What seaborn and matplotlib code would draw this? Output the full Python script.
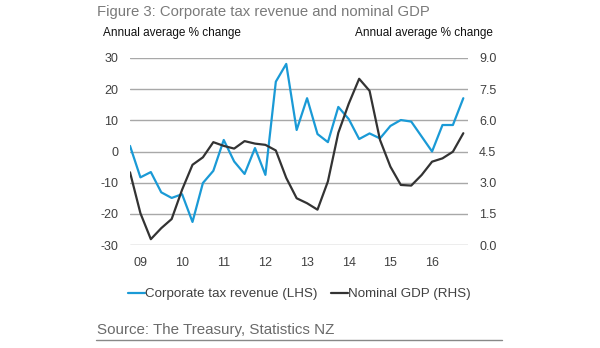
import matplotlib
matplotlib.use("Agg")
import matplotlib.pyplot as plt
from matplotlib.lines import Line2D
import seaborn as sns
import pandas as pd

quarters = ["2008Q4"] + [f"{y}Q{q}" for y in range(2009, 2017) for q in range(1, 5)]
tax_revenue = [1.8, -8.3, -6.6, -13.1, -14.9, -13.7, -22.6, -10.1, -6.2, 3.7, -3.2,
               -7.2, 1.1, -7.5, 22.4, 28.1, 6.9, 17.1, 5.6, 3.0, 14.3, 10.4, 4.0,
               5.8, 4.2, 8.2, 10.1, 9.6, 4.8, 0.0, 8.5, 8.5, 17.1]
nominal_gdp = [3.5, 1.53, 0.28, 0.81, 1.25, 2.66, 3.86, 4.22, 4.95, 4.77, 4.64,
               5.0, 4.88, 4.82, 4.55, 3.23, 2.25, 2.01, 1.7, 3.06, 5.4, 6.8, 8.0,
               7.42, 5.06, 3.77, 2.89, 2.86, 3.37, 4.01, 4.17, 4.49, 5.38]
year_labels = ["09", "10", "11", "12", "13", "14", "15", "16"]
left_ticks = [-30, -20, -10, 0, 10, 20, 30]
right_ticks = [0.0, 1.5, 3.0, 4.5, 6.0, 7.5, 9.0]

df = pd.DataFrame({"quarter": quarters, "tax": tax_revenue, "gdp": nominal_gdp})
df["idx"] = range(len(df))

sns.set_theme(style="white")
plt.rcParams["font.family"] = ["Liberation Sans", "DejaVu Sans"]

BLUE = "#1a9ad6"
BLACK = "#333333"
GRID = "#a8a8a8"
TICKC = "#404040"

fig = plt.figure(figsize=(6, 3.48), dpi=100)
ax = fig.add_axes([130 / 600, 1 - 245 / 348, (468 - 130) / 600, (245 - 58) / 348])
ax2 = ax.twinx()

sns.lineplot(data=df, x="idx", y="tax", ax=ax, color=BLUE, linewidth=1.6)
sns.lineplot(data=df, x="idx", y="gdp", ax=ax2, color=BLACK, linewidth=1.6)

ax.set_xlim(0, 32.45)
ax.set_ylim(-30, 30)
ax2.set_ylim(0, 9)
ax.set_yticks(left_ticks)
ax.set_yticklabels([str(t) for t in left_ticks])
ax2.set_yticks(right_ticks)
ax2.set_yticklabels([f"{t:.1f}" for t in right_ticks])
year_pos = [df.index[df["quarter"] == f"20{y}Q1"][0] for y in year_labels]
ax.set_xticks(year_pos)
ax.set_xticklabels(year_labels)

for a in (ax, ax2):
    for s in a.spines.values():
        s.set_visible(False)
    a.set_xlabel("")
    a.set_ylabel("")
ax.grid(False)
ax2.grid(False)
for t in left_ticks:
    ax.axhline(t, color=GRID, linewidth=1.0, zorder=0)
ax2.patch.set_visible(False)

ax.tick_params(axis="y", length=0, pad=8.5, labelsize=9, labelcolor=TICKC)
ax.tick_params(axis="x", length=0, pad=8.5, labelsize=9, labelcolor=TICKC)
ax2.tick_params(axis="y", length=0, pad=8, labelsize=9, labelcolor=TICKC)

fig.text(97 / 600, 1 - 12 / 348, "Figure 3: Corporate tax revenue and nominal GDP",
         fontsize=10.7, color="#7a7a7a", ha="left", va="center")
fig.text(103 / 600, 1 - 33 / 348, "Annual average % change", fontsize=8.5,
         color="#111111", ha="left", va="center")
fig.text(493 / 600, 1 - 33 / 348, "Annual average % change", fontsize=8.5,
         color="#111111", ha="right", va="center")

handles = [Line2D([], [], color=BLUE, linewidth=1.6),
           Line2D([], [], color=BLACK, linewidth=1.6)]
fig.legend(handles, ["Corporate tax revenue (LHS)", "Nominal GDP (RHS)"],
           loc="center", bbox_to_anchor=(299.5 / 600, 1 - 294 / 348), ncol=2,
           frameon=False, handlelength=1.3, handletextpad=0.0, columnspacing=1.0,
           prop={"size": 9.6}, labelcolor="#404040")

fig.text(97 / 600, 1 - 330 / 348, "Source: The Treasury, Statistics NZ",
         fontsize=10.9, color="#6a6a6a", ha="left", va="center")
fig.add_artist(Line2D([96 / 600, 502 / 600], [1 - 340 / 348] * 2,
                      color="#888888", linewidth=1.0))

fig.savefig("out.png", dpi=100)
